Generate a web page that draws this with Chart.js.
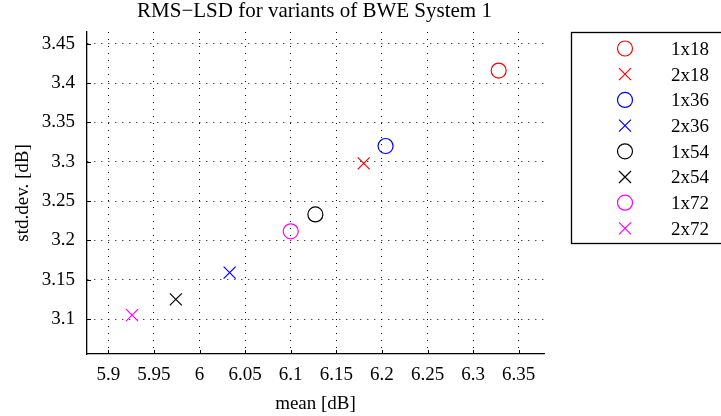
<!DOCTYPE html>
<html>
<head>
<meta charset="utf-8">
<script src="https://cdn.jsdelivr.net/npm/chart.js@4/dist/chart.umd.min.js"></script>
<style>
  html, body { margin: 0; padding: 0; background: #fff; }
  #wrap { width: 721px; height: 416px; position: relative; }
</style>
</head>
<body>
<div id="wrap"><canvas id="chart-bwe"></canvas></div>
<script>
const variantes = ['1x18', '2x18', '1x36', '2x36', '1x54', '2x54', '1x72', '2x72'];
const mediaDb = [6.328, 6.180, 6.204, 6.033, 6.127, 5.974, 6.100, 5.926];
const desvDb = [3.416, 3.298, 3.320, 3.159, 3.233, 3.125, 3.2115, 3.105];
const colores = ['#ff0000', '#ff0000', '#0000ff', '#0000ff', '#000000', '#000000', '#ff00ff', '#ff00ff'];
const marcadores = ['circle', 'crossRot', 'circle', 'crossRot', 'circle', 'crossRot', 'circle', 'crossRot'];
const titulo = 'RMS\u2212LSD for variants of BWE System 1';

const FONT = '"Liberation Serif", "Times New Roman", serif';

function radioMarcador(estilo) {
  return estilo === 'circle' ? 7.5 : 8.5;
}

function dibujarMarcador(ctx, estilo, color, x, y) {
  ctx.save();
  ctx.strokeStyle = color;
  ctx.lineWidth = 1.2;
  ctx.beginPath();
  if (estilo === 'circle') {
    ctx.arc(x, y, 7.5, 0, Math.PI * 2);
  } else {
    const d = 6;
    ctx.moveTo(x - d, y - d); ctx.lineTo(x + d, y + d);
    ctx.moveTo(x - d, y + d); ctx.lineTo(x + d, y - d);
  }
  ctx.stroke();
  ctx.restore();
}

// titulo, marcas internas y leyenda al estilo MATLAB
const extras = {
  id: 'extras',
  afterDraw(chart) {
    const { ctx, chartArea, scales } = chart;
    ctx.save();
    ctx.fillStyle = '#000';
    ctx.font = '21px ' + FONT;
    ctx.textAlign = 'center';
    ctx.textBaseline = 'alphabetic';
    ctx.fillText(titulo, (chartArea.left + chartArea.right) / 2 - 1, 17);

    ctx.strokeStyle = '#000';
    ctx.lineWidth = 1;
    ctx.beginPath();
    scales.x.ticks.forEach((t) => {
      const px = Math.round(scales.x.getPixelForValue(t.value)) + 0.5;
      ctx.moveTo(px, chartArea.bottom); ctx.lineTo(px, chartArea.bottom - 4);
    });
    scales.y.ticks.forEach((t) => {
      const py = Math.round(scales.y.getPixelForValue(t.value)) + 0.5;
      ctx.moveTo(chartArea.left, py); ctx.lineTo(chartArea.left + 4, py);
    });
    ctx.stroke();

    // leyenda
    const bx = 571, by = 32, bw = 160, bh = 211;
    ctx.font = '19px ' + FONT;
    ctx.lineWidth = 1.3;
    ctx.strokeRect(bx + 0.5, by + 0.5, bw, bh);
    ctx.textAlign = 'left';
    ctx.textBaseline = 'middle';
    chart.data.datasets.forEach((ds, i) => {
      const y = 48.5 + i * 25.7;
      dibujarMarcador(ctx, ds.pointStyle, ds.borderColor, 625, y);
      ctx.fillStyle = '#000';
      ctx.fillText(ds.label, 671, y + 1.5);
    });
    ctx.restore();
  }
};

const chartBwe = new Chart(document.getElementById('chart-bwe'), {
  type: 'scatter',
  data: {
    datasets: variantes.map((v, i) => ({
      label: v,
      data: [{ x: mediaDb[i], y: desvDb[i] }],
      pointStyle: marcadores[i],
      borderColor: colores[i],
      backgroundColor: 'rgba(0,0,0,0)',
      borderWidth: 1.2,
      pointRadius: radioMarcador(marcadores[i]),
      pointHoverRadius: radioMarcador(marcadores[i])
    }))
  },
  options: {
    responsive: true,
    maintainAspectRatio: false,
    animation: false,
    layout: { padding: { left: 0, right: 177, top: 32, bottom: 0 } },
    plugins: { legend: { display: false }, tooltip: { enabled: false }, title: { display: false } },
    scales: {
      x: {
        type: 'linear',
        min: 5.8766,
        max: 6.3777,
        afterFit: (s) => { s.height = 62; },
        grid: { color: '#000', lineWidth: 1, drawTicks: false },
        border: { display: true, color: '#000', width: 1.3, dash: [1, 6] },
        ticks: {
          stepSize: 0.05,
          includeBounds: false,
          padding: 10,
          color: '#000',
          font: { family: FONT, size: 19 },
          callback: (v) => String(+v.toFixed(2))
        },
        title: { display: true, text: 'mean [dB]', color: '#000', font: { family: FONT, size: 19 }, padding: { top: 0, bottom: 1 } }
      },
      y: {
        type: 'linear',
        min: 3.0555,
        max: 3.465,
        afterFit: (s) => { s.width = 87; },
        grid: { color: '#000', lineWidth: 1, drawTicks: false },
        border: { display: true, color: '#000', width: 1.3, dash: [1, 6] },
        ticks: {
          stepSize: 0.05,
          includeBounds: false,
          padding: 12,
          color: '#000',
          font: { family: FONT, size: 19 },
          callback: (v) => String(+v.toFixed(2))
        },
        title: { display: true, text: 'std.dev. [dB]', color: '#000', font: { family: FONT, size: 19 }, padding: { top: 12, bottom: 0 } }
      }
    }
  },
  plugins: [extras]
});
</script>
</body>
</html>
